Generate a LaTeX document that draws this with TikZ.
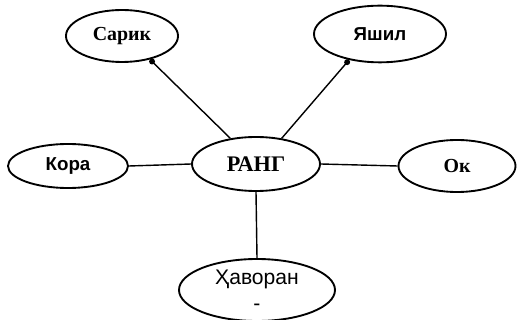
\documentclass[tikz,border=0pt]{standalone}
\usepackage{fontspec}
\setmainfont{Liberation Serif}
\setsansfont{Liberation Sans}
\usetikzlibrary{shapes.geometric,arrows.meta}
\begin{document}
\begin{tikzpicture}[x=0.03cm,y=-0.03cm,
  oval/.style={ellipse,draw,line width=1.6pt,inner sep=0pt,
    minimum width=#1*0.03cm,font=\fontsize{17}{19}\selectfont\bfseries},
  sans/.style={font=\fontsize{16}{19}\selectfont\sffamily\bfseries},
  link/.style={line width=1.2pt}]
\useasboundingbox (0,0) rectangle (517,320);
\node[oval=112,minimum height=1.56cm] (sariq) at (122,36) {Сарик};
\node[oval=132,minimum height=1.7cm,sans] (yashil) at (380,34) {Яшил};
\node[oval=120,minimum height=1.32cm,sans] (qora) at (68,166) {Кора};
\node[oval=128,minimum height=1.62cm,font=\fontsize{19}{21}\selectfont\bfseries] (rang) at (256,164) {РАНГ};
\node[oval=117,minimum height=1.56cm] (oq) at (457,166) {Ок};
\node[oval=156,minimum height=1.86cm,font=\fontsize{18}{19}\selectfont\sffamily,align=center] (havorang) at (257,290) {Ҳаворан\\[3pt]-};

\draw[link,-{Circle[length=5pt]}] (rang.135) -- (sariq.-40);
\draw[link,-{Circle[length=5pt]}] (rang.45) -- (yashil.-140);
\draw[link] (rang.west) -- (qora.east);
\draw[link] (rang.east) -- (oq.west);
\draw[link] (rang.south) -- (havorang.north);
\end{tikzpicture}
\end{document}
